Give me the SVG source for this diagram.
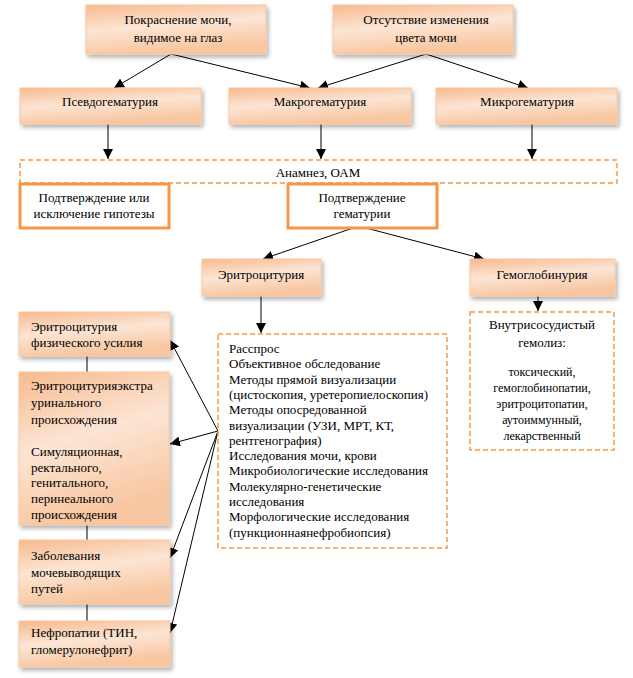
<svg xmlns="http://www.w3.org/2000/svg" width="633" height="678" viewBox="0 0 633 678">
<defs>
<linearGradient id="g" x1="0" y1="0" x2="0.3" y2="1">
<stop offset="0" stop-color="#F7BA8E"/>
<stop offset="0.5" stop-color="#FCE5D4"/>
<stop offset="1" stop-color="#F8C6A0"/>
</linearGradient>
<filter id="sh" x="-10%" y="-10%" width="125%" height="140%">
<feDropShadow dx="2" dy="3" stdDeviation="2" flood-color="#000" flood-opacity="0.3"/>
</filter>
<marker id="ah" viewBox="0 0 10 10" refX="10" refY="5" markerWidth="10" markerHeight="10" markerUnits="userSpaceOnUse" orient="auto">
<path d="M0,0 L10,5 L0,10 z" fill="#000"/>
</marker>
<style>
.b{fill:url(#g);stroke:#F9C7A0;stroke-width:1;filter:url(#sh)}
.d{fill:#fff;stroke:#F79646;stroke-width:1.5;stroke-dasharray:5,3}
.t{fill:#fff;stroke:#F79646;stroke-width:3}
text{font-family:"Liberation Serif","Times New Roman",Times,Tinos,"Noto Serif",serif;font-size:13px;fill:#000}
.c{text-anchor:middle}
.s{font-size:12px}
.l{stroke:#000;stroke-width:1;fill:none}
.a{stroke:#000;stroke-width:1;fill:none;marker-end:url(#ah)}
</style>
</defs>
<g id="connectors">
<line class="a" x1="171" y1="54" x2="114" y2="88"/>
<line class="a" x1="171" y1="54" x2="310" y2="88"/>
<line class="a" x1="426" y1="54" x2="318" y2="88"/>
<line class="a" x1="426" y1="54" x2="528" y2="88"/>
<line class="a" x1="108" y1="124" x2="108" y2="159"/>
<line class="a" x1="321" y1="124" x2="321" y2="159"/>
<line class="a" x1="532" y1="124" x2="532" y2="159"/>
<line class="a" x1="353" y1="228" x2="263" y2="259"/>
<line class="a" x1="366" y1="228" x2="484" y2="259"/>
<line class="a" x1="261" y1="296" x2="261" y2="333"/>
<line class="a" x1="538" y1="296" x2="538" y2="311"/>
<line class="a" x1="218" y1="431" x2="170" y2="340"/>
<line class="a" x1="218" y1="431" x2="170" y2="444"/>
<line class="a" x1="218" y1="431" x2="170" y2="558"/>
<line class="a" x1="218" y1="431" x2="170" y2="633"/>
<line class="l" x1="87" y1="356" x2="87" y2="372"/>
<line class="l" x1="87" y1="525" x2="87" y2="540"/>
<line class="l" x1="87" y1="604" x2="87" y2="621"/>
</g>
<g id="n1"><rect class="b" x="86" y="5" width="180" height="49"/>
<text class="c" x="178" y="24">Покраснение мочи,</text><text class="c" x="178" y="42">видимое на глаз</text></g>
<g id="n2"><rect class="b" x="333" y="5" width="180" height="49"/>
<text class="c" x="426" y="24">Отсутствие изменения</text><text class="c" x="426" y="42">цвета мочи</text></g>
<g id="n3"><rect class="b" x="20" y="88" width="181" height="36"/>
<text class="c" x="110" y="106">Псевдогематурия</text></g>
<g id="n4"><rect class="b" x="229" y="88" width="182" height="36"/>
<text class="c" x="320" y="106">Макрогематурия</text></g>
<g id="n5"><rect class="b" x="436" y="88" width="181" height="36"/>
<text class="c" x="527" y="106">Микрогематурия</text></g>
<g id="n6"><rect class="d" x="20" y="160" width="597" height="23"/>
<text class="c" x="318" y="177">Анамнез, ОАМ</text></g>
<g id="n7"><rect class="t" x="20" y="184" width="149" height="44"/>
<text class="c" x="94" y="202">Подтверждение или</text><text class="c" x="94" y="218">исключение гипотезы</text></g>
<g id="n8"><rect class="t" x="288" y="184" width="149" height="44"/>
<text class="c" x="362" y="202">Подтверждение</text><text class="c" x="362" y="218">гематурии</text></g>
<g id="n9"><rect class="b" x="202" y="259" width="119" height="37"/>
<text class="c" x="261" y="279">Эритроцитурия</text></g>
<g id="n10"><rect class="b" x="470" y="259" width="145" height="37"/>
<text class="c" x="542" y="279">Гемоглобинурия</text></g>
<g id="n11"><rect class="d" x="218" y="334" width="229" height="214"/>
<text x="229" y="353">Расспрос</text>
<text x="229" y="368.3">Объективное обследование</text>
<text x="229" y="383.6">Методы прямой визуализации</text>
<text x="229" y="398.9">(цистоскопия, уретеропиелоскопия)</text>
<text x="229" y="414.2">Методы опосредованной</text>
<text x="229" y="429.5">визуализации (УЗИ, МРТ, КТ,</text>
<text x="229" y="444.8">рентгенография)</text>
<text x="229" y="460.1">Исследования мочи, крови</text>
<text x="229" y="475.4">Микробиологические исследования</text>
<text x="229" y="490.7">Молекулярно-генетические</text>
<text x="229" y="506">исследования</text>
<text x="229" y="521.3">Морфологические исследования</text>
<text x="229" y="536.6">(пункционнаянефробиопсия)</text></g>
<g id="n12"><rect class="d" x="470" y="312" width="144" height="138"/>
<text class="c" x="542" y="329">Внутрисосудистый</text>
<text class="c" x="542" y="347">гемолиз:</text>
<text class="c s" x="542" y="376">токсический,</text>
<text class="c s" x="542" y="392">гемоглобинопатии,</text>
<text class="c s" x="542" y="408">эритроцитопатии,</text>
<text class="c s" x="542" y="424">аутоиммунный,</text>
<text class="c s" x="542" y="440">лекарственный</text></g>
<g id="n13"><rect class="b" x="19" y="312" width="151" height="44"/>
<text x="31" y="331">Эритроцитурия</text><text x="31" y="347">физического усилия</text></g>
<g id="n14"><rect class="b" x="19" y="372" width="150" height="153"/>
<text x="31" y="390">Эритроцитурияэкстра</text>
<text x="31" y="407">уринального</text>
<text x="31" y="424">происхождения</text>
<text x="31" y="456">Симуляционная,</text>
<text x="31" y="471.5">ректального,</text>
<text x="31" y="487">генитального,</text>
<text x="31" y="503">перинеального</text>
<text x="31" y="519">происхождения</text></g>
<g id="n15"><rect class="b" x="19" y="540" width="151" height="64"/>
<text x="31" y="560">Заболевания</text><text x="31" y="577">мочевыводящих</text><text x="31" y="593">путей</text></g>
<g id="n16"><rect class="b" x="19" y="621" width="151" height="46"/>
<text x="31" y="637">Нефропатии (ТИН,</text><text x="31" y="654">гломерулонефрит)</text></g>
</svg>
